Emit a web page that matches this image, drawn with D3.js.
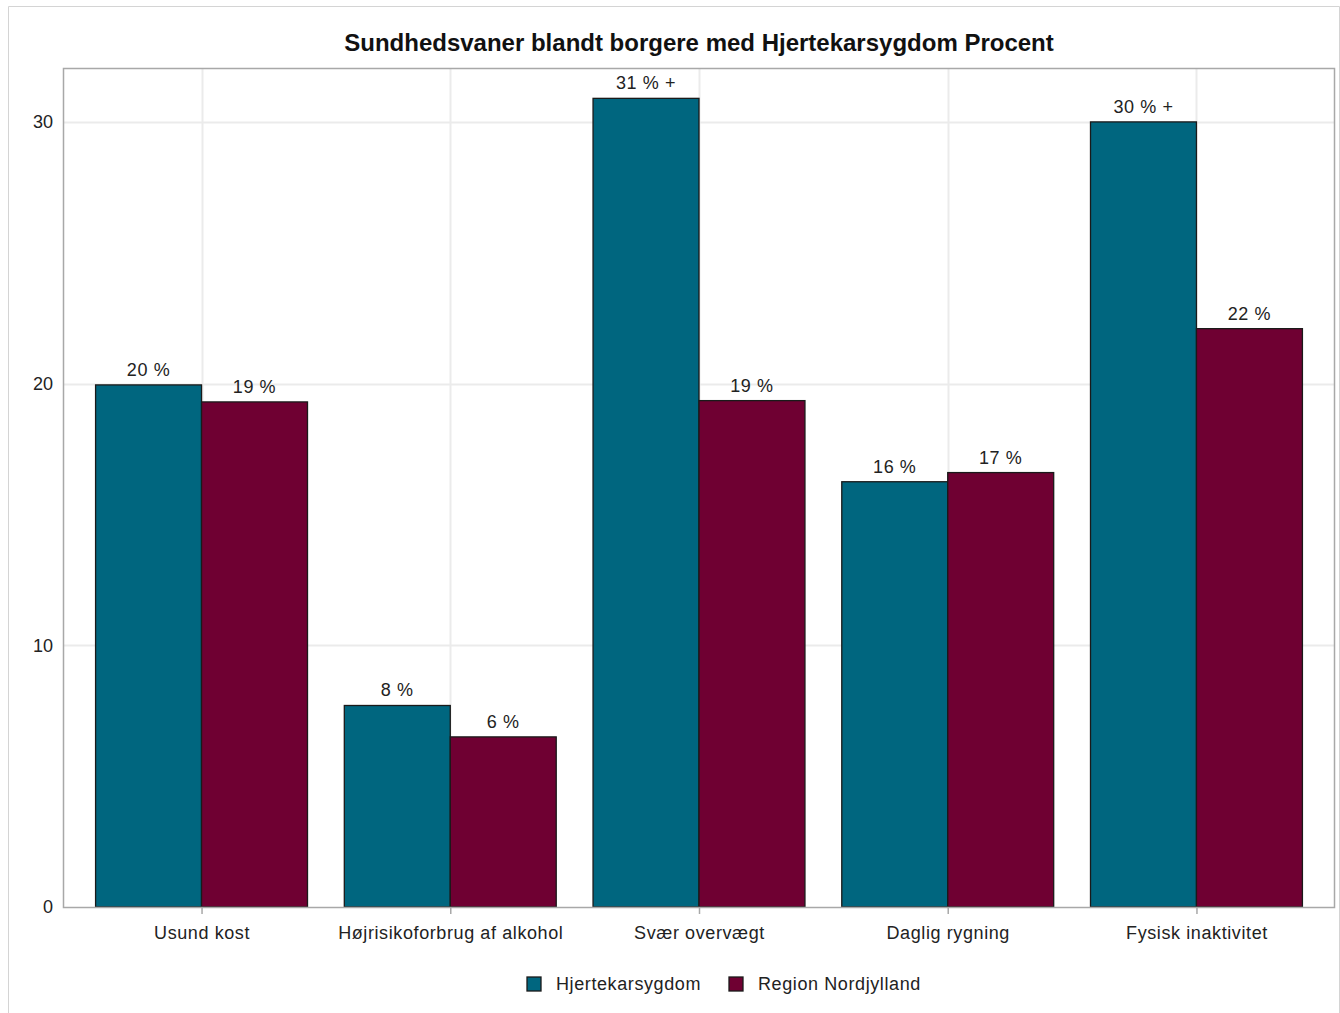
<!DOCTYPE html>
<html>
<head>
<meta charset="utf-8">
<script src="https://cdn.jsdelivr.net/npm/d3@7"></script>
<style>
  body { margin: 0; background: #fff; }
  text { font-family: Arial, "Liberation Sans", sans-serif; }
</style>
</head>
<body>
<svg id="chart" width="1340" height="1013"></svg>
<script>
// data
const categories = ["Usund kost", "Højrisikoforbrug af alkohol", "Svær overvægt", "Daglig rygning", "Fysisk inaktivitet"];
const seriesNames = ["Hjertekarsygdom", "Region Nordjylland"];
const hjerteValues = [19.95, 7.7, 30.9, 16.25, 30.0];
const regionValues = [19.3, 6.5, 19.35, 16.6, 22.1];
const hjerteLabels = ["20 %", "8 %", "31 % +", "16 %", "30 % +"];
const regionLabels = ["19 %", "6 %", "19 %", "17 %", "22 %"];
const yTicks = [0, 10, 20, 30];

const colors = ["#00667f", "#6f0032"];

const svg = d3.select("#chart");
const plotLeft = 63, plotRight = 1335, plotTop = 68, plotBottom = 907;

// outer frame
svg.append("path")
  .attr("d", "M8.5,1013 V6.5 H1339.5 V1013")
  .attr("fill", "none").attr("stroke", "#d4d4d4");

// title
svg.append("text")
  .attr("x", (plotLeft + plotRight) / 2).attr("y", 51)
  .attr("text-anchor", "middle")
  .style("font-size", "24px").style("font-weight", "bold").attr("fill", "#111")
  .text("Sundhedsvaner blandt borgere med Hjertekarsygdom Procent");

const x = d3.scaleBand()
  .domain(categories)
  .range([plotLeft, plotRight])
  .paddingInner(0.148)
  .paddingOuter(0.131);

const xs = d3.scaleBand()
  .domain(seriesNames)
  .range([0, x.bandwidth()]);

const y = d3.scaleLinear()
  .domain([0, 32.06])
  .range([plotBottom, plotTop]);

// grid
const g = svg.append("g");
g.selectAll(".hgrid").data(yTicks.filter(d => d > 0)).enter()
  .append("line")
  .attr("x1", plotLeft).attr("x2", plotRight)
  .attr("y1", d => Math.round(y(d)) + 0.5).attr("y2", d => Math.round(y(d)) + 0.5)
  .attr("stroke", "#ebebeb").attr("stroke-width", 2);
g.selectAll(".vgrid").data(categories).enter()
  .append("line")
  .attr("y1", plotTop).attr("y2", plotBottom)
  .attr("x1", d => Math.round(x(d) + x.bandwidth() / 2) + 0.5)
  .attr("x2", d => Math.round(x(d) + x.bandwidth() / 2) + 0.5)
  .attr("stroke", "#ebebeb").attr("stroke-width", 2);

// bars
const rows = categories.map((c, i) => ({
  cat: c,
  vals: [
    { s: seriesNames[0], v: hjerteValues[i], lab: hjerteLabels[i] },
    { s: seriesNames[1], v: regionValues[i], lab: regionLabels[i] }
  ]
}));

const grp = svg.append("g").selectAll("g").data(rows).enter()
  .append("g")
  .attr("transform", d => "translate(" + x(d.cat) + ",0)");

grp.selectAll("rect").data(d => d.vals).enter()
  .append("rect")
  .attr("x", d => xs(d.s))
  .attr("y", d => y(d.v))
  .attr("width", xs.bandwidth())
  .attr("height", d => y(0) - y(d.v))
  .attr("fill", (d, i) => colors[i])
  .attr("stroke", "#1a1a1a")
  .attr("stroke-width", 1.3);

grp.selectAll("text").data(d => d.vals).enter()
  .append("text")
  .attr("x", d => xs(d.s) + xs.bandwidth() / 2)
  .attr("y", d => y(d.v) - 9)
  .attr("text-anchor", "middle")
  .style("font-size", "18px").style("letter-spacing", "0.6px").attr("fill", "#222")
  .text(d => d.lab);

// plot frame
svg.append("rect")
  .attr("x", plotLeft + 0.5).attr("y", plotTop + 0.5)
  .attr("width", plotRight - plotLeft - 1).attr("height", plotBottom - plotTop)
  .attr("fill", "none").attr("stroke", "#a8a8a8").attr("stroke-width", 1.5);

// y axis
const yAxis = svg.append("g")
  .attr("transform", "translate(" + plotLeft + ",0)")
  .call(d3.axisLeft(y).tickValues(yTicks).tickSize(0).tickPadding(10));
yAxis.select(".domain").remove();
yAxis.selectAll("text")
  .style("font-size", "18px").style("font-family", "Arial, 'Liberation Sans', sans-serif")
  .attr("fill", "#222");

// x axis
const xAxis = svg.append("g")
  .attr("transform", "translate(0," + plotBottom + ")")
  .call(d3.axisBottom(d3.scalePoint().domain(categories)
    .range([x(categories[0]) + x.bandwidth() / 2, x(categories[4]) + x.bandwidth() / 2]))
    .tickSize(7).tickPadding(12));
xAxis.select(".domain").remove();
xAxis.selectAll(".tick line").attr("stroke", "#a8a8a8").attr("stroke-width", 1.5);
xAxis.selectAll("text")
  .style("font-size", "18px").style("letter-spacing", "0.6px")
  .style("font-family", "Arial, 'Liberation Sans', sans-serif")
  .attr("fill", "#222");

// legend
const legendItems = [
  { name: seriesNames[0], x: 527, color: colors[0] },
  { name: seriesNames[1], x: 729, color: colors[1] }
];
const lg = svg.append("g").selectAll("g").data(legendItems).enter()
  .append("g").attr("transform", d => "translate(" + d.x + ",977)");
lg.append("rect")
  .attr("width", 14).attr("height", 14)
  .attr("fill", d => d.color).attr("stroke", "#1a1a1a").attr("stroke-width", 1.3);
lg.append("text")
  .attr("x", 29).attr("y", 13)
  .style("font-size", "18px").style("letter-spacing", "0.6px").attr("fill", "#222")
  .text(d => d.name);
</script>
</body>
</html>
